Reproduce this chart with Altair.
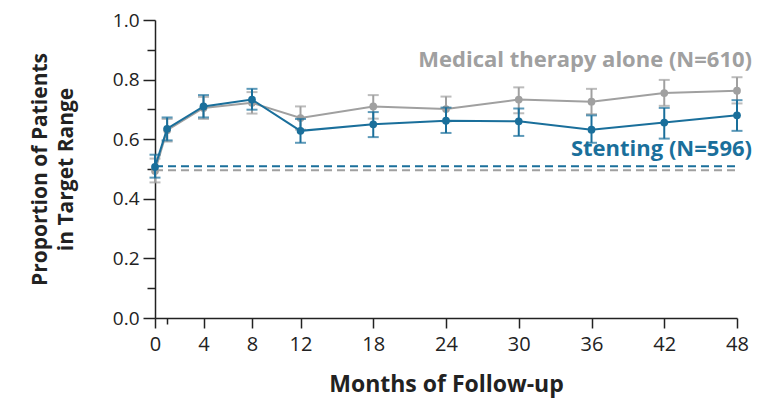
import altair as alt
import pandas as pd

months = [0, 1, 4, 8, 12, 18, 24, 30, 36, 42, 48]
stent = [0.507, 0.635, 0.710, 0.733, 0.628, 0.650, 0.662, 0.660, 0.632, 0.656, 0.680]
stent_lo = [0.471, 0.596, 0.673, 0.699, 0.588, 0.607, 0.621, 0.611, 0.588, 0.602, 0.628]
stent_hi = [0.548, 0.673, 0.748, 0.769, 0.668, 0.691, 0.706, 0.703, 0.680, 0.705, 0.731]
med = [0.493, 0.630, 0.705, 0.722, 0.671, 0.710, 0.701, 0.733, 0.726, 0.755, 0.763]
med_lo = [0.455, 0.592, 0.668, 0.686, 0.632, 0.669, 0.660, 0.687, 0.684, 0.712, 0.720]
med_hi = [0.535, 0.668, 0.742, 0.758, 0.710, 0.748, 0.743, 0.774, 0.769, 0.799, 0.808]

series_names = ["Medical therapy alone", "Stenting"]
series_labels = ["Medical therapy alone (N=610)", "Stenting (N=596)"]
baseline = [0.496, 0.509]
label_y = [0.867, 0.567]
label_x = [48, 48]

x_ticks = [0, 1, 4, 8, 12, 18, 24, 30, 36, 42, 48]
y_ticks = [0.0, 0.1, 0.2, 0.3, 0.4, 0.5, 0.6, 0.7, 0.8, 0.9, 1.0]

BLUE = "#1a6f9b"
GRAY = "#a0a0a0"
GRAY_TEXT = "#7a7a7a"
INK = "#222222"

rows = []
for name, v, lo, hi in [(series_names[0], med, med_lo, med_hi),
                        (series_names[1], stent, stent_lo, stent_hi)]:
    for m, a, b, c in zip(months, v, lo, hi):
        rows.append({"series": name, "month": m, "value": a, "lo": b, "hi": c})
df = pd.DataFrame(rows)

base_df = pd.DataFrame({
    "series": series_names * 2,
    "month": [0, 0, 48, 48],
    "value": baseline * 2,
})
lab_df = pd.DataFrame({"series": series_names, "label": series_labels,
                       "month": label_x, "value": label_y})

color = alt.Color("series:N", scale=alt.Scale(domain=series_names, range=[GRAY, BLUE]), legend=None)

xs = alt.Scale(domain=[0, 48], nice=False, zero=False)
ys = alt.Scale(domain=[0, 1], nice=False)

x_axis = alt.Axis(values=x_ticks, labelExpr="datum.value == 1 ? '' : datum.label",
                  labelFlush=False, labelOverlap=False,
                  title="Months of Follow-up", grid=False,
                  tickSize={"condition": {"test": "datum.value == 1", "value": 6}, "value": 10},
                  tickWidth=1.5, domainWidth=1.5, domainColor=INK, tickColor=INK,
                  labelFontSize=20, labelFont="Open Sans", labelFontWeight="normal",
                  labelColor=INK, labelPadding=6,
                  titleFontSize=23, titleFontWeight="bold", titleColor=INK, titlePadding=19)
y_axis = alt.Axis(values=y_ticks, format=".1f",
                  labelExpr="(round(datum.value*10) % 2 == 0) ? datum.label : ''",
                  labelFlush=False, labelOverlap=False,
                  title=["Proportion of Patients", "in Target Range"], grid=False,
                  tickSize={"condition": {"test": "round(datum.value*10) % 2 == 0", "value": 12}, "value": 8},
                  tickWidth=1.5, domainWidth=1.5, domainColor=INK, tickColor=INK,
                  labelFontSize=19, labelFont="Open Sans", labelFontWeight="normal",
                  labelColor=INK, labelPadding=4,
                  titleFontSize=21, titleFontWeight="bold", titleColor=INK, titlePadding=36,
                  titleLineHeight=26)

X = alt.X("month:Q", scale=xs, axis=x_axis)


def Yf(f):
    return alt.Y(f, scale=ys, axis=y_axis)


dash = alt.Chart(base_df).mark_line(strokeDash=[8, 5], strokeWidth=2).encode(
    x=X, y=Yf("value:Q"), color=color, detail="series:N")

layers = [dash]
for name in series_names:
    d = df[df.series == name]
    ch = alt.Chart(d)
    layers.append(ch.mark_rule(strokeWidth=2).encode(
        x=X, y=Yf("lo:Q"), y2="hi:Q", color=color))
    layers.append(ch.mark_tick(orient="horizontal", size=11, thickness=2).encode(
        x=X, y=Yf("lo:Q"), color=color))
    layers.append(ch.mark_tick(orient="horizontal", size=11, thickness=2).encode(
        x=X, y=Yf("hi:Q"), color=color))
    layers.append(ch.mark_line(strokeWidth=2).encode(
        x=X, y=Yf("value:Q"), color=color))
    layers.append(ch.mark_circle(size=60, opacity=1).encode(
        x=X, y=Yf("value:Q"), color=color))

text = alt.Chart(lab_df).mark_text(align="right", baseline="middle", dx=15,
                                   fontSize=22, fontWeight="bold", font="Open Sans").encode(
    x=X, y=Yf("value:Q"), text="label:N",
    color=alt.Color("series:N", scale=alt.Scale(domain=series_names, range=[GRAY_TEXT, BLUE]), legend=None))
layers.append(text)

chart = alt.layer(*layers).properties(
    width=582, height=298,
    autosize=alt.AutoSizeParams(type="none"),
    padding={"left": 147, "top": 12, "right": 19, "bottom": 83},
).configure(font="Open Sans").configure_view(stroke=None)

chart.save("out.html", embed_options={"renderer": "svg", "actions": False})
